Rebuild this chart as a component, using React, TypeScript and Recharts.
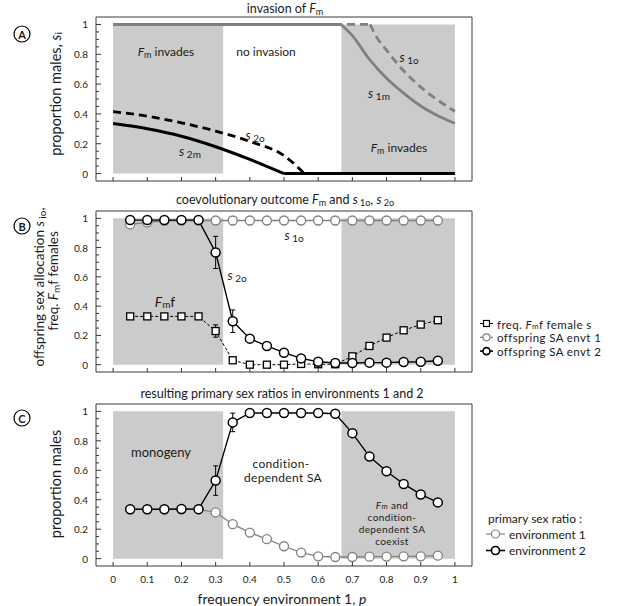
import React from "react";
import { ComposedChart, Line, XAxis, YAxis, ReferenceArea, ErrorBar } from "recharts";

const FONT = "Lato, 'Open Sans', sans-serif";
const GRAY = "#808080";

// p values of the simulation runs (panels B and C)
const pValues = [0.05, 0.1, 0.15, 0.2, 0.25, 0.3, 0.35, 0.4, 0.45, 0.5, 0.55, 0.6, 0.65, 0.7, 0.75, 0.8, 0.85, 0.9, 0.95];
const xTicks = [0, 0.1, 0.2, 0.3, 0.4, 0.5, 0.6, 0.7, 0.8, 0.9, 1];
const yTicks = [0, 0.05, 0.1, 0.15, 0.2, 0.25, 0.3, 0.35, 0.4, 0.45, 0.5, 0.55, 0.6, 0.65, 0.7, 0.75, 0.8, 0.85, 0.9, 0.95, 1];
const yMajor = [0, 0.2, 0.4, 0.6, 0.8, 1];

// shaded regions (Fm present)
const leftRegion = [0, 0.322];
const rightRegion = [0.668, 1];

// panel A: invasion analysis (flat parts and curved parts)
const s1mFlatP = [0, 0.667];
const s1mFlat = [1, 1];
const s1mCurveP = [0.667, 0.7, 0.75, 0.8, 0.85, 0.9, 0.95, 1];
const s1mCurve = [1, 0.925, 0.765, 0.639, 0.539, 0.453, 0.388, 0.337];
const s1oFlatP = [0, 0.752];
const s1oFlat = [1, 1];
const s1oCurveP = [0.752, 0.775, 0.8, 0.85, 0.9, 0.95, 1];
const s1oCurve = [1, 0.9, 0.827, 0.689, 0.58, 0.492, 0.417];
const s2mCurveP = [0, 0.1, 0.2, 0.3, 0.4, 0.5];
const s2mCurve = [0.335, 0.3, 0.25, 0.18, 0.095, 0];
const s2mFlatP = [0.5, 1];
const s2mFlat = [0, 0];
const s2oCurveP = [0, 0.1, 0.2, 0.3, 0.4, 0.5, 0.56];
const s2oCurve = [0.415, 0.385, 0.34, 0.285, 0.215, 0.12, 0];

// panel B: coevolutionary outcome
const fmfFreq = [0.33, 0.33, 0.33, 0.33, 0.33, 0.23, 0.03, 0, 0, 0, 0.005, 0.003, 0.003, 0.057, 0.128, 0.185, 0.235, 0.274, 0.304];
const fmfErr = [0, 0, 0, 0, 0, 0.042, 0.015, 0, 0, 0, 0, 0, 0, 0, 0, 0, 0, 0, 0];
const bEnv1 = [0.958, 0.972, 0.982, 0.985, 0.985, 0.985, 0.985, 0.985, 0.985, 0.985, 0.985, 0.985, 0.985, 0.985, 0.985, 0.985, 0.985, 0.985, 0.985];
const bEnv2 = [0.988, 0.988, 0.988, 0.988, 0.988, 0.767, 0.297, 0.178, 0.128, 0.082, 0.043, 0.02, 0.011, 0.011, 0.014, 0.014, 0.018, 0.02, 0.027];
const bEnv2Err = [0, 0, 0, 0, 0, 0.11, 0.077, 0, 0, 0, 0, 0, 0, 0, 0, 0, 0, 0, 0];

// panel C: primary sex ratios
const cEnv1 = [0.335, 0.335, 0.335, 0.335, 0.335, 0.314, 0.234, 0.177, 0.132, 0.084, 0.041, 0.016, 0.011, 0.011, 0.013, 0.014, 0.016, 0.016, 0.02];
const cEnv2 = [0.335, 0.335, 0.335, 0.337, 0.336, 0.53, 0.925, 0.989, 0.989, 0.989, 0.989, 0.989, 0.984, 0.852, 0.693, 0.593, 0.507, 0.436, 0.382];
const cEnv2Err = [0, 0, 0, 0, 0, 0.1, 0.063, 0, 0, 0, 0, 0, 0, 0, 0, 0, 0, 0, 0];

const toPts = (ps: number[], vs: number[]) => ps.map((p, i) => ({ p, v: vs[i] }));

const bData = pValues.map((p, i) => ({ p, fmf: fmfFreq[i], fmfErr: fmfErr[i], env1: bEnv1[i], env2: bEnv2[i], env2Err: bEnv2Err[i] }));
const cData = pValues.map((p, i) => ({ p, env1: cEnv1[i], env2: cEnv2[i], env2Err: cEnv2Err[i] }));

const renderYTick = (props: any) => {
  const { x, y, payload } = props;
  const v = payload.value;
  const major = yMajor.includes(v);
  return (
    <g key={`yt-${v}`}>
      <line x1={x} x2={x + (major ? 5 : 3)} y1={y} y2={y} stroke="#333" strokeWidth={1} />
      {major && (
        <text x={x - 8} y={y} textAnchor="end" dominantBaseline="central" fontSize={10} fill="#222" fontFamily={FONT}>
          {String(v)}
        </text>
      )}
    </g>
  );
};

const makeXTick = (labels: boolean) => (props: any) => {
  const { x, y, payload } = props;
  return (
    <g key={`xt-${payload.value}`}>
      <line x1={x} x2={x} y1={y} y2={y - 4} stroke="#333" strokeWidth={1} />
      {labels && (
        <text x={x} y={y + 13} textAnchor="middle" dominantBaseline="central" fontSize={10} fill="#222" fontFamily={FONT}>
          {String(payload.value)}
        </text>
      )}
    </g>
  );
};

const axes = (labels: boolean, xh: number) => [
  <XAxis key="x" type="number" dataKey="p" domain={[-0.05, 1.05]} ticks={xTicks} interval={0} allowDataOverflow
    tick={makeXTick(labels)} tickLine={false} axisLine={false} tickSize={0} tickMargin={0} height={xh} />,
  <YAxis key="y" type="number" domain={[-0.05, 1.05]} ticks={yTicks} interval={0} allowDataOverflow
    tick={renderYTick} tickLine={false} axisLine={false} tickSize={0} tickMargin={0} width={40} />,
];

const shading = () => [
  <ReferenceArea key="sl" x1={leftRegion[0]} x2={leftRegion[1]} y1={0} y2={1} fill="#cbcbcb" fillOpacity={1} stroke="none" ifOverflow="visible" />,
  <ReferenceArea key="sr" x1={rightRegion[0]} x2={rightRegion[1]} y1={0} y2={1} fill="#cbcbcb" fillOpacity={1} stroke="none" ifOverflow="visible" />,
];

const frame = () => (
  <ReferenceArea key="frame" x1={-0.05} x2={1.05} y1={-0.05} y2={1.05} fill="none" stroke="#3a3a3a" strokeWidth={1} ifOverflow="visible" />
);

const squareDot = (props: any) => {
  const { cx, cy, index } = props;
  return <rect key={`sq-${index}`} x={cx - 3.5} y={cy - 3.5} width={7} height={7} fill="#fff" stroke="#000" strokeWidth={1.3} />;
};

const MARGIN_LR = { left: 56, right: 146 };

// italic base letter, subscript, then optional text back on the baseline
function sb(base: string, sub: string, after = "", size = 9, shift = 3, italic = true) {
  return [
    <tspan key="b" fontStyle={italic ? "italic" : "normal"}>{base}</tspan>,
    <tspan key="s" dy={shift} fontSize={size}>{sub}</tspan>,
    after ? <tspan key="a" dy={-shift}>{after}</tspan> : null,
  ];
}

function Overlay() {
  const t = { fontFamily: FONT, fill: "#1a1a1a", textAnchor: "middle" as const, dominantBaseline: "central" as const };
  const circ = (cx: number, cy: number, l: string) => (
    <g>
      <circle cx={cx} cy={cy} r={8} fill="#fff" stroke="#000" strokeWidth={1.2} />
      <text x={cx} y={cy + 0.5} {...t} fontSize={11} fontWeight="bold">{l}</text>
    </g>
  );
  const lb = [323.5, 337.3, 351.1];
  const rb = [504.5, 516.5, 528.5, 540.5];
  return (
    <svg width={618} height={606} style={{ position: "absolute", left: 0, top: 0, pointerEvents: "none" }}>
      {circ(22, 34, "A")}
      {circ(22, 226, "B")}
      {circ(22, 418, "C")}

      {/* panel A */}
      <text x={285} y={8} {...t} fontSize={12.5}>
        <tspan>invasion of </tspan>
        {sb("F", "m")}
      </text>
      <text transform="translate(55,94) rotate(-90)" {...t} fontSize={14.5}>
        <tspan>proportion males, </tspan>
        {sb("s", "i", "", 10)}
      </text>
      <text x={166} y={51} {...t} fontSize={12}>{sb("F", "m", " invades")}</text>
      <text x={266} y={51} {...t} fontSize={12}>no invasion</text>
      <text x={409} y={57} {...t} fontSize={13}>{sb("s", " 1o", "", 10)}</text>
      <text x={379} y={93} {...t} fontSize={13}>{sb("s", " 1m", "", 10)}</text>
      <text x={255} y={135} {...t} fontSize={13}>{sb("s", " 2o", "", 10)}</text>
      <text x={190} y={151} {...t} fontSize={13}>{sb("s", " 2m", "", 10)}</text>
      <text x={399} y={147} {...t} fontSize={12}>{sb("F", "m", " invades")}</text>

      {/* panel B */}
      <text x={285} y={199} {...t} fontSize={12.5}>
        <tspan>coevolutionary outcome </tspan>
        <tspan fontStyle="italic">F</tspan>
        <tspan dy={3} fontSize={9}>m</tspan>
        <tspan dy={-3}> and </tspan>
        <tspan fontStyle="italic">s</tspan>
        <tspan dy={3} fontSize={9}> 1o</tspan>
        <tspan dy={-3}>, </tspan>
        <tspan fontStyle="italic">s</tspan>
        <tspan dy={3} fontSize={9}> 2o</tspan>
      </text>
      <text transform="translate(39,287) rotate(-90)" {...t} fontSize={13.5}>
        <tspan>offspring sex allocation </tspan>
        {sb("s", " io", ",", 10)}
      </text>
      <text transform="translate(53,281) rotate(-90)" {...t} fontSize={13.5}>
        <tspan>freq. </tspan>
        {sb("F", "m", "f females", 10)}
      </text>
      <text x={294} y={235} {...t} fontSize={13}>{sb("s", " 1o", "", 10)}</text>
      <text x={237} y={275} {...t} fontSize={13}>{sb("s", " 2o", "", 10)}</text>
      <text x={165} y={301} {...t} fontSize={14}>{sb("F", "m", "f", 10)}</text>

      {/* legend B */}
      <g>
        <line x1={480} x2={493} y1={lb[0]} y2={lb[0]} stroke="#000" strokeWidth={1.2} strokeDasharray="3 2" />
        <rect x={483.5} y={lb[0] - 3} width={6} height={6} fill="#fff" stroke="#000" strokeWidth={1.2} />
        <line x1={480} x2={493} y1={lb[1]} y2={lb[1]} stroke={GRAY} strokeWidth={1.2} />
        <circle cx={486.5} cy={lb[1]} r={3.5} fill="#fff" stroke={GRAY} strokeWidth={1.2} />
        <line x1={480} x2={493} y1={lb[2]} y2={lb[2]} stroke="#000" strokeWidth={1.6} />
        <circle cx={486.5} cy={lb[2]} r={3.5} fill="#fff" stroke="#000" strokeWidth={1.6} />
        <text x={497} y={lb[0]} {...t} textAnchor="start" fontSize={11.5} letterSpacing={0.4}>
          <tspan>freq. </tspan>
          {sb("F", "m", "f female s", 8, 2)}
        </text>
        <text x={497} y={lb[1]} {...t} textAnchor="start" fontSize={11.5} letterSpacing={0.4}>offspring SA envt  1</text>
        <text x={497} y={lb[2]} {...t} textAnchor="start" fontSize={11.5} letterSpacing={0.4}>offspring SA envt  2</text>
      </g>

      {/* panel C */}
      <text x={282} y={393} {...t} fontSize={12.5}>resulting primary sex ratios in environments 1 and  2</text>
      <text transform="translate(55,484) rotate(-90)" {...t} fontSize={14.5}>proportion males</text>
      <text x={161} y={452} {...t} fontSize={13}>monogeny</text>
      <text x={281} y={463.3} {...t} fontSize={12} letterSpacing={0.3}>condition-</text>
      <text x={283} y={477.7} {...t} fontSize={12} letterSpacing={0.3}>dependent SA</text>
      <text x={392} y={rb[0]} {...t} fontSize={10} letterSpacing={0.4}>{sb("F", "m", " and", 7.5, 1.5)}</text>
      <text x={392} y={rb[1]} {...t} fontSize={10} letterSpacing={0.4}>condition-</text>
      <text x={392} y={rb[2]} {...t} fontSize={10} letterSpacing={0.4}>dependent SA</text>
      <text x={392} y={rb[3]} {...t} fontSize={10} letterSpacing={0.4}>coexist</text>
      <text x={282} y={598} {...t} fontSize={14}>
        <tspan>frequency environment 1,  </tspan>
        <tspan fontStyle="italic">p</tspan>
      </text>

      {/* legend C */}
      <g>
        <line x1={486} x2={505} y1={534} y2={534} stroke={GRAY} strokeWidth={1.2} />
        <circle cx={495.5} cy={534} r={4} fill="#fff" stroke={GRAY} strokeWidth={1.2} />
        <line x1={486} x2={505} y1={550.5} y2={550.5} stroke="#000" strokeWidth={1.6} />
        <circle cx={495.5} cy={550.5} r={4} fill="#fff" stroke="#000" strokeWidth={1.6} />
        <text x={488} y={518} {...t} textAnchor="start" fontSize={12}>primary sex ratio :</text>
        <text x={509} y={534} {...t} textAnchor="start" fontSize={12}>environment 1</text>
        <text x={509} y={550.5} {...t} textAnchor="start" fontSize={12}>environment 2</text>
      </g>
    </svg>
  );
}

export default function App() {
  return (
    <div style={{ position: "absolute", left: 0, top: 0, width: 618, height: 606, background: "#fff", fontFamily: FONT }}>
      {/* panel A */}
      <div style={{ position: "absolute", left: 0, top: 0 }}>
        <ComposedChart width={618} height={200} margin={{ top: 17, bottom: 9, ...MARGIN_LR }}>
          {shading()}
          {axes(false, 10)}
          <Line data={toPts(s1oFlatP, s1oFlat)} dataKey="v" type="linear" stroke={GRAY} strokeWidth={2.8} strokeDasharray="8 5" dot={false} isAnimationActive={false} />
          <Line data={toPts(s1oCurveP, s1oCurve)} dataKey="v" type="monotoneX" stroke={GRAY} strokeWidth={2.8} strokeDasharray="8 5" dot={false} isAnimationActive={false} />
          <Line data={toPts(s1mFlatP, s1mFlat)} dataKey="v" type="linear" stroke={GRAY} strokeWidth={3} dot={false} isAnimationActive={false} />
          <Line data={toPts(s1mCurveP, s1mCurve)} dataKey="v" type="monotoneX" stroke={GRAY} strokeWidth={2.8} dot={false} isAnimationActive={false} />
          <Line data={toPts(s2oCurveP, s2oCurve)} dataKey="v" type="monotoneX" stroke="#000" strokeWidth={2.8} strokeDasharray="8 5" dot={false} isAnimationActive={false} />
          <Line data={toPts(s2mCurveP, s2mCurve)} dataKey="v" type="monotoneX" stroke="#000" strokeWidth={3} dot={false} isAnimationActive={false} />
          <Line data={toPts(s2mFlatP, s2mFlat)} dataKey="v" type="linear" stroke="#000" strokeWidth={3} dot={false} isAnimationActive={false} />
          {frame()}
        </ComposedChart>
      </div>

      {/* panel B */}
      <div style={{ position: "absolute", left: 0, top: 190 }}>
        <ComposedChart width={618} height={200} data={bData} margin={{ top: 21, bottom: 8, ...MARGIN_LR }}>
          {shading()}
          {axes(false, 10)}
          <Line dataKey="fmf" type="linear" stroke="#000" strokeWidth={1} strokeDasharray="3 2" dot={squareDot} isAnimationActive={false}>
            <ErrorBar dataKey="fmfErr" direction="y" width={2.5} stroke="#000" strokeWidth={1} />
          </Line>
          <Line dataKey="env1" type="linear" stroke={GRAY} strokeWidth={1.3} dot={{ r: 4.5, fill: "#fff", stroke: GRAY, strokeWidth: 1.3 }} isAnimationActive={false} />
          <Line dataKey="env2" type="linear" stroke="#000" strokeWidth={1.4} dot={{ r: 4.5, fill: "#fff", stroke: "#000", strokeWidth: 1.5 }} isAnimationActive={false}>
            <ErrorBar dataKey="env2Err" direction="y" width={2.5} stroke="#000" strokeWidth={1} />
          </Line>
          {frame()}
        </ComposedChart>
      </div>

      {/* panel C */}
      <div style={{ position: "absolute", left: 0, top: 380 }}>
        <ComposedChart width={618} height={226} data={cData} margin={{ top: 24, bottom: 10, ...MARGIN_LR }}>
          {shading()}
          {axes(true, 30)}
          <Line dataKey="env1" type="linear" stroke={GRAY} strokeWidth={1.3} dot={{ r: 4.5, fill: "#fff", stroke: GRAY, strokeWidth: 1.3 }} isAnimationActive={false} />
          <Line dataKey="env2" type="linear" stroke="#000" strokeWidth={1.4} dot={{ r: 4.5, fill: "#fff", stroke: "#000", strokeWidth: 1.5 }} isAnimationActive={false}>
            <ErrorBar dataKey="env2Err" direction="y" width={2.5} stroke="#000" strokeWidth={1} />
          </Line>
          {frame()}
        </ComposedChart>
      </div>

      <Overlay />
    </div>
  );
}
